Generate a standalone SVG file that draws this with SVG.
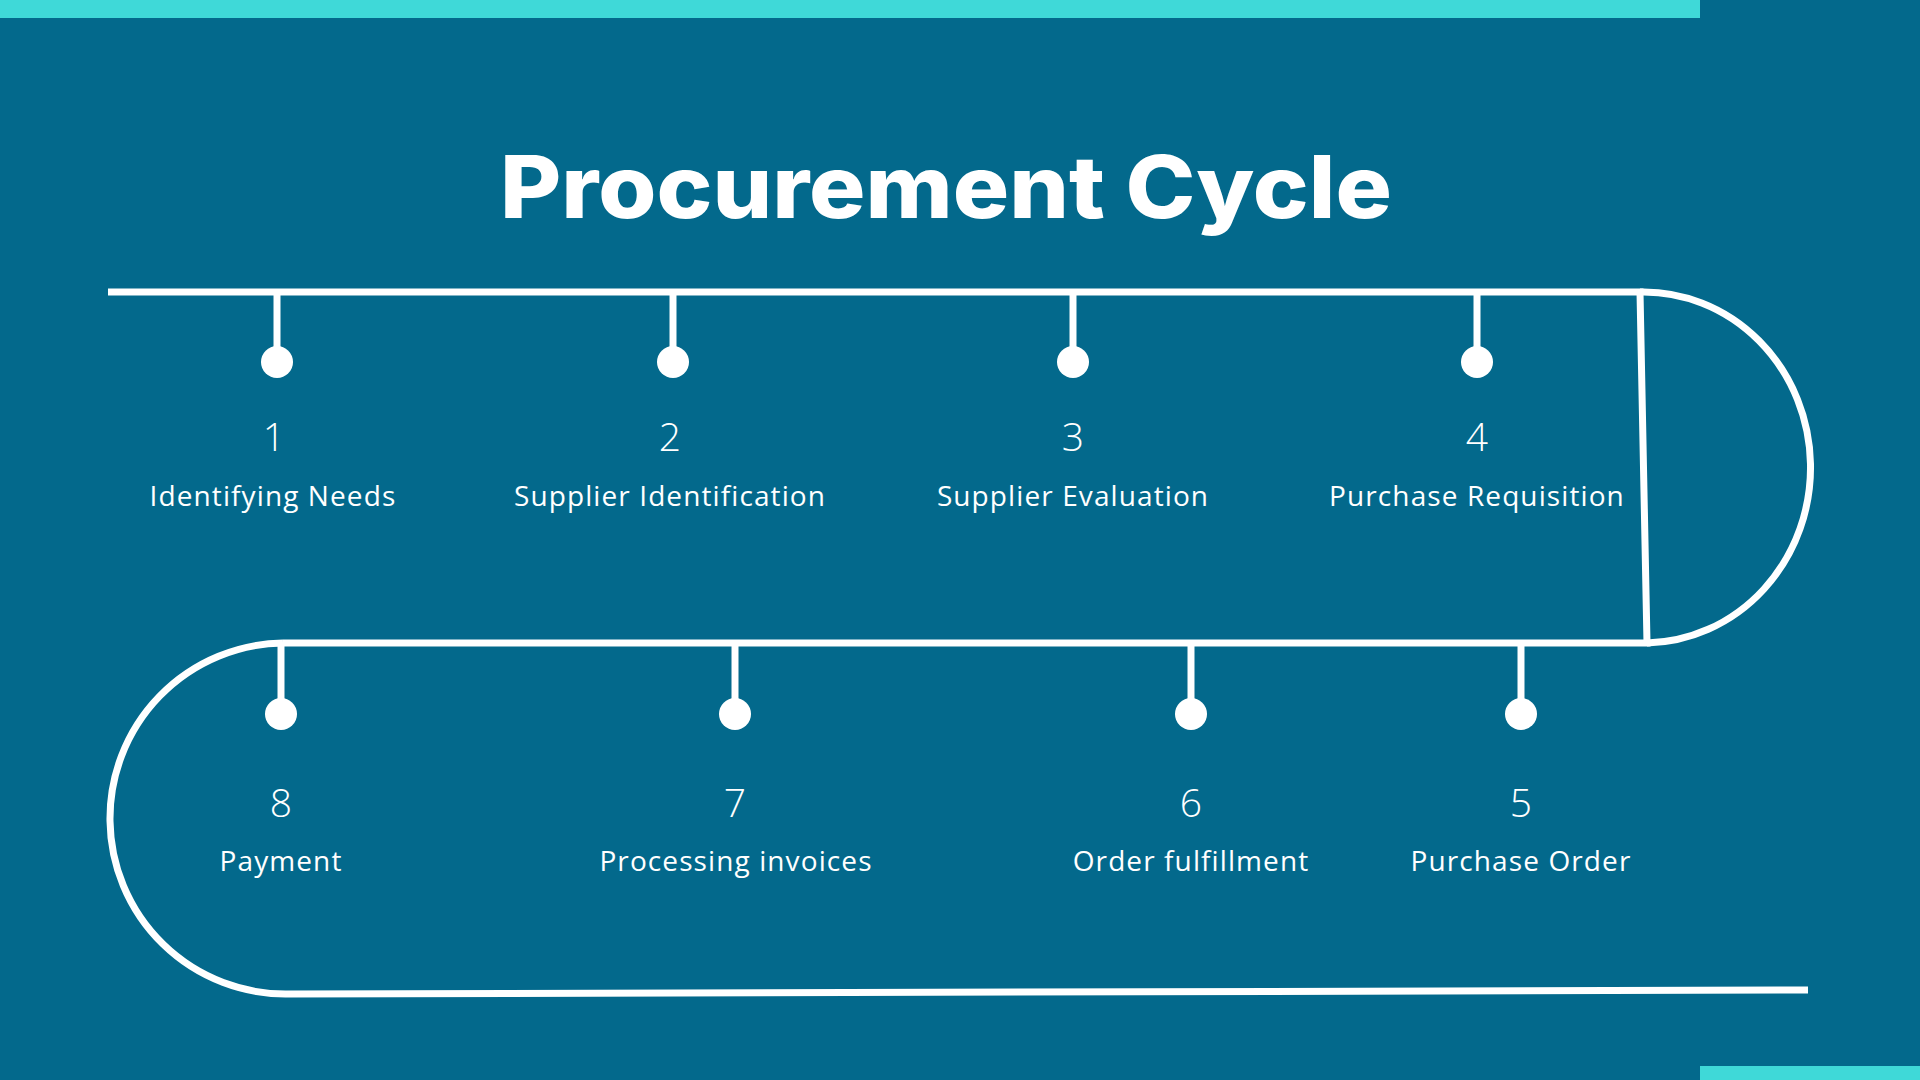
<svg xmlns="http://www.w3.org/2000/svg" width="1920" height="1080" viewBox="0 0 1920 1080">
<style>
.bg{fill:#03698C}
.bar{fill:#3FD9D8}
.line{fill:none;stroke:#FFFFFF;stroke-width:7}
.stem{stroke:#FFFFFF;stroke-width:7}
.dot{fill:#FFFFFF}
.num{font-family:"Open Sans","Liberation Sans",sans-serif;font-weight:300;font-size:39px;fill:#FFFFFF;text-anchor:middle}
.lbl{font-family:"Open Sans","Liberation Sans",sans-serif;font-size:28px;letter-spacing:1.1px;fill:#FFFFFF;text-anchor:middle}
.title{font-family:Inter,"Liberation Sans",sans-serif;font-weight:800;font-size:86px;fill:#FFFFFF;text-anchor:middle}
</style>
<rect class="bg" x="0" y="0" width="1920" height="1080"/>
<rect class="bar" x="0" y="0" width="1700" height="18"/>
<rect class="bar" x="1700" y="1066" width="220" height="14"/>
<text class="title" x="946" y="218" textLength="892" lengthAdjust="spacingAndGlyphs">Procurement Cycle</text>
<g id="connectors">
<path class="line" d="M108 292 L1640 292 L1647 643 L283 643"/>
<path class="line" d="M1640 292 A167 175.5 0 0 1 1647 643"/>
<path class="line" d="M283 643 A174 174 0 0 0 288 994 L1808 990"/>
</g>
<g id="node1"><line class="stem" x1="277" y1="292" x2="277" y2="362"/><circle class="dot" cx="277" cy="362" r="16"/><text class="num" x="274" y="451">1</text><text class="lbl" x="273" y="506">Identifying Needs</text></g>
<g id="node2"><line class="stem" x1="673" y1="292" x2="673" y2="362"/><circle class="dot" cx="673" cy="362" r="16"/><text class="num" x="670" y="451">2</text><text class="lbl" x="670" y="506">Supplier Identification</text></g>
<g id="node3"><line class="stem" x1="1073" y1="292" x2="1073" y2="362"/><circle class="dot" cx="1073" cy="362" r="16"/><text class="num" x="1073" y="451">3</text><text class="lbl" x="1073" y="506">Supplier Evaluation</text></g>
<g id="node4"><line class="stem" x1="1477" y1="292" x2="1477" y2="362"/><circle class="dot" cx="1477" cy="362" r="16"/><text class="num" x="1477" y="451">4</text><text class="lbl" x="1477" y="506">Purchase Requisition</text></g>
<g id="node5"><line class="stem" x1="1521" y1="643" x2="1521" y2="714"/><circle class="dot" cx="1521" cy="714" r="16"/><text class="num" x="1521" y="817">5</text><text class="lbl" x="1521" y="871">Purchase Order</text></g>
<g id="node6"><line class="stem" x1="1191" y1="643" x2="1191" y2="714"/><circle class="dot" cx="1191" cy="714" r="16"/><text class="num" x="1191" y="817">6</text><text class="lbl" x="1191" y="871">Order fulfillment</text></g>
<g id="node7"><line class="stem" x1="735" y1="643" x2="735" y2="714"/><circle class="dot" cx="735" cy="714" r="16"/><text class="num" x="735" y="817">7</text><text class="lbl" x="736" y="871">Processing invoices</text></g>
<g id="node8"><line class="stem" x1="281" y1="643" x2="281" y2="714"/><circle class="dot" cx="281" cy="714" r="16"/><text class="num" x="281" y="817">8</text><text class="lbl" x="281" y="871">Payment</text></g>
</svg>
